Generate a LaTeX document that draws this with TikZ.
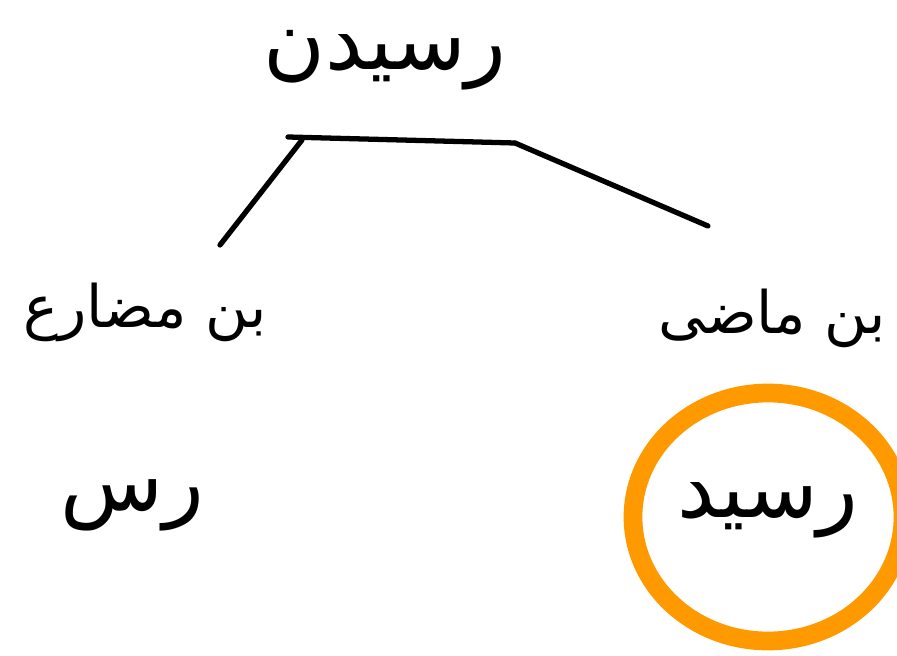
\documentclass[tikz,border=0pt]{standalone}
\usepackage{fontspec}
\newfontfamily\arabicfont[Script=Arabic]{DejaVu Sans}
\TeXXeTstate=1
\definecolor{stemorange}{RGB}{255,153,0}
\tikzset{
  word/.style={font=\arabicfont\fontsize{50}{54}\selectfont, inner sep=1pt},
  bigword/.style={font=\arabicfont\fontsize{72}{76}\selectfont, inner sep=1pt},
  stroke/.style={line width=4.5pt, line cap=round}
}

\begin{document}
\begin{tikzpicture}[x=0.03cm, y=-0.03cm]
\useasboundingbox (0,0) rectangle (897,656);

\node[bigword] (infin) at (385,60) {\beginR رسیدن\endR};
\node[word] (present) at (145,312) {\beginR بن مضارع\endR};
\node[word] (past) at (772,318) {\beginR بن ماضی\endR};
\node[bigword] (presstem) at (132,505) {\beginR رس\endR};
\node[bigword] (paststem) at (768,510) {\beginR رسید\endR};

\coordinate (barL) at (288,137);
\coordinate (barR) at (515,143);
\coordinate (joinL) at (302,140);
\coordinate (endL) at (220,245);
\coordinate (endR) at (708,226);

\draw[stroke] (barL)--(barR);
\draw[stroke] (joinL)--(endL);
\draw[stroke] (barR)--(endR);

\draw[line width=16pt, stemorange] (768,517) ellipse [x radius=135, y radius=124];

\end{tikzpicture}
\end{document}
